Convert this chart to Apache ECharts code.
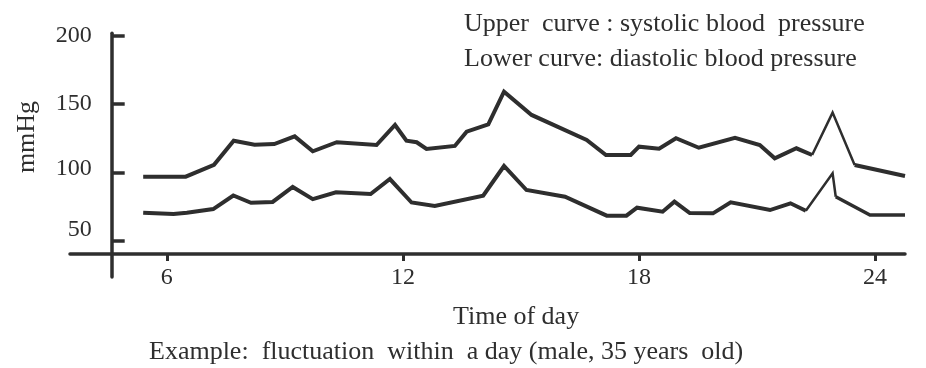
<!DOCTYPE html>
<html>
<head>
<meta charset="utf-8">
<script src="https://cdn.jsdelivr.net/npm/echarts@6/dist/echarts.min.js"></script>
<style>html,body{margin:0;padding:0;background:#fff}#c{width:926px;height:368px}</style>
</head>
<body>
<div id="c"></div>
<script>
// Systolic (upper curve): [hour, mmHg]
const systolic = [
  [5.40,97.0],[6.48,97.0],[7.20,105.7],[7.70,123.2],[8.23,120.3],[8.73,120.8],[9.25,126.4],
  [9.71,115.5],[10.32,122.1],[11.33,120.1],[11.80,134.7],[12.09,123.2],[12.35,122.1],[12.60,117.2],
  [13.32,119.4],[13.62,129.8],[14.17,135.2],[14.57,159.0],[15.27,142.0],[16.67,123.8],[17.16,112.8],
  [17.79,112.8],[18.00,118.9],[18.51,117.4],[18.94,125.0],[19.52,118.1],[20.44,125.4],[21.07,120.1],
  [21.45,110.4],[22.00,117.7],[22.40,112.8],[22.92,143.7],[23.48,105.5],[24.76,97.5]
];
// Diastolic (lower curve): [hour, mmHg]
const diastolic = [
  [5.40,70.8],[6.17,69.8],[6.51,70.8],[7.18,73.4],[7.69,83.3],[8.14,78.0],[8.69,78.6],[9.20,89.5],
  [9.71,80.6],[10.30,85.6],[11.18,84.4],[11.67,95.3],[12.22,78.2],[12.81,75.6],[14.04,83.1],
  [14.57,104.8],[15.14,87.3],[16.12,82.4],[17.18,68.6],[17.68,68.6],[17.95,74.4],[18.60,71.5],
  [18.90,78.8],[19.29,70.5],[19.88,70.3],[20.33,78.3],[21.33,72.7],[21.85,77.6],[22.24,72.2],
  [22.92,99.5],[23.00,82.4],[23.87,69.1],[24.76,69.1]
];
const xTicks = [6, 12, 18, 24];
const yTicks = [50, 100, 150, 200];
const legendLines = ['Upper  curve : systolic blood  pressure', 'Lower curve: diastolic blood pressure'];
const xTitle = 'Time of day';
const caption = 'Example:  fluctuation  within  a day (male, 35 years  old)';
const yTitle = 'mmHg';

const FONT = '"Liberation Serif", "Times New Roman", serif';
const INK = '#2e2e2e';

// the late-evening spike is drawn with a thinner pen in the original
function seg(data, from, to, width) {
  return {type: 'line', data: data.slice(from, to), symbol: 'none',
          lineStyle: {color: INK, width: width, join: 'miter'}};
}
const sN = systolic.length, dN = diastolic.length;

const chart = echarts.init(document.getElementById('c'), null, {renderer: 'canvas'});
chart.setOption({
  animation: false,
  backgroundColor: '#fff',
  grid: {left: 70, right: 21, top: 33.3, bottom: 91},
  title: [
    {text: legendLines[0], left: 459, top: 6, textStyle: {fontFamily: FONT, fontSize: 26, fontWeight: 'normal', color: INK}},
    {text: legendLines[1], left: 459, top: 41, textStyle: {fontFamily: FONT, fontSize: 26, fontWeight: 'normal', color: INK}},
    {text: xTitle, left: 448, top: 299, textStyle: {fontFamily: FONT, fontSize: 26, fontWeight: 'normal', color: INK}},
    {text: caption, left: 144, top: 334, textStyle: {fontFamily: FONT, fontSize: 26, fontWeight: 'normal', color: INK}}
  ],
  graphic: [{
    type: 'text', x: 27, y: 137, rotation: Math.PI / 2,
    style: {text: yTitle, font: '26px ' + FONT, fill: INK, textAlign: 'center', textVerticalAlign: 'middle'}
  }],
  xAxis: {
    type: 'value', min: 3.54, max: 24.76, offset: -23,
    axisLine: {lineStyle: {color: INK, width: 3.5}},
    axisTick: {customValues: xTicks, length: 7, lineStyle: {color: INK, width: 3}},
    axisLabel: {customValues: xTicks, margin: 12, fontFamily: FONT, fontSize: 24, color: INK},
    splitLine: {show: false}
  },
  yAxis: {
    type: 'value', min: 23.9, max: 201.5, offset: -41.7,
    axisLine: {show: true, lineStyle: {color: INK, width: 3.5}},
    axisTick: {show: true, inside: true, customValues: yTicks, length: 13, lineStyle: {color: INK, width: 3.5}},
    axisLabel: {
      customValues: yTicks, margin: 20, fontFamily: FONT, fontSize: 24, color: INK,
      formatter: v => v === 50 ? '{lo|50}' : (v === 100 ? '{mid|100}' : String(v)),
      rich: {
        lo: {fontFamily: FONT, fontSize: 24, color: INK, padding: [0, 0, 22, 0]},
        mid: {fontFamily: FONT, fontSize: 24, color: INK, padding: [0, 0, 7, 0]}
      }
    },
    splitLine: {show: false}
  },
  series: [
    seg(systolic, 0, sN - 3, 4),
    seg(systolic, sN - 4, sN - 1, 2.5),
    seg(systolic, sN - 2, sN, 4),
    seg(diastolic, 0, dN - 4, 4),
    seg(diastolic, dN - 5, dN - 2, 2.5),
    seg(diastolic, dN - 3, dN, 3.5)
  ]
});
</script>
</body>
</html>
